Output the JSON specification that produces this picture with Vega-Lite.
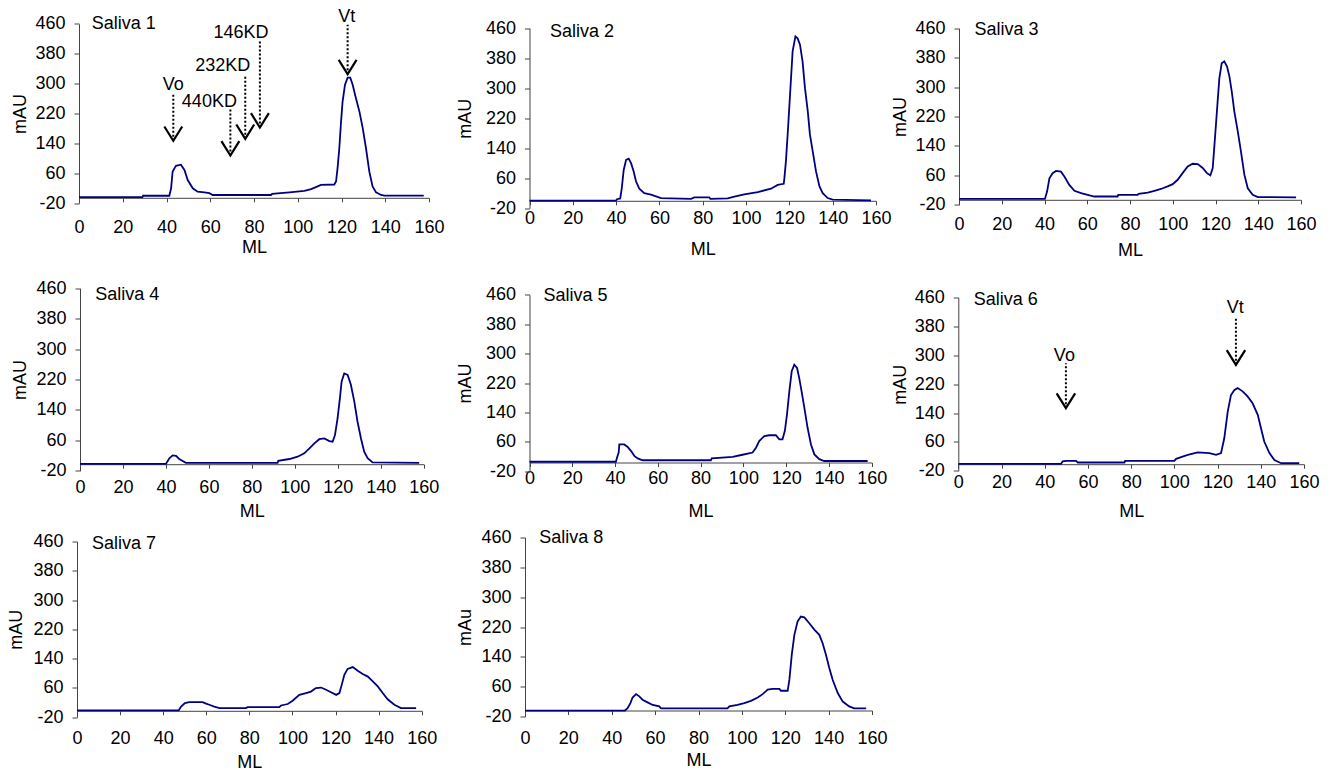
{
  "$schema": "https://vega.github.io/schema/vega-lite/v6.json",
  "background": "white",
  "padding": {"left": 7, "top": 7.5, "right": 0, "bottom": 0},
  "bounds": "flush",
  "columns": 3,
  "spacing": {"row": 52, "column": 80},
  "datasets": {
    "curves": [
      {"p":1,"x":0,"y":-4},{"p":1,"x":29,"y":-4},{"p":1,"x":29.3,"y":0},{"p":1,"x":41.3,"y":0},{"p":1,"x":42.1,"y":20},{"p":1,"x":42.8,"y":65},{"p":1,"x":44.3,"y":80},{"p":1,"x":46.6,"y":83},{"p":1,"x":48.2,"y":69},{"p":1,"x":49.7,"y":42},{"p":1,"x":52,"y":20},{"p":1,"x":54.2,"y":11},{"p":1,"x":57.3,"y":9},{"p":1,"x":59.6,"y":7},{"p":1,"x":61.1,"y":2},{"p":1,"x":87.8,"y":2},{"p":1,"x":88.3,"y":5},{"p":1,"x":96.2,"y":9},{"p":1,"x":103,"y":13},{"p":1,"x":106.1,"y":17.5},{"p":1,"x":108.3,"y":23},{"p":1,"x":110.6,"y":29},{"p":1,"x":116.7,"y":30},{"p":1,"x":117.5,"y":38},{"p":1,"x":118.2,"y":74},{"p":1,"x":119,"y":127},{"p":1,"x":119.8,"y":199},{"p":1,"x":120.5,"y":252},{"p":1,"x":121.6,"y":297},{"p":1,"x":122.8,"y":316},{"p":1,"x":124,"y":316},{"p":1,"x":125.1,"y":297},{"p":1,"x":126.6,"y":261},{"p":1,"x":128.2,"y":225},{"p":1,"x":129.7,"y":181},{"p":1,"x":131.2,"y":127},{"p":1,"x":132.7,"y":65},{"p":1,"x":134.2,"y":25},{"p":1,"x":135.8,"y":9},{"p":1,"x":138.1,"y":2},{"p":1,"x":139.6,"y":0.5},{"p":1,"x":157.6,"y":0.5},
      {"p":2,"x":0,"y":0},{"p":2,"x":39.9,"y":0},{"p":2,"x":40.4,"y":4},{"p":2,"x":41.9,"y":6},{"p":2,"x":42.6,"y":33},{"p":2,"x":43.5,"y":82},{"p":2,"x":44.6,"y":109},{"p":2,"x":45.8,"y":112},{"p":2,"x":46.9,"y":100},{"p":2,"x":48.1,"y":78},{"p":2,"x":49.2,"y":51},{"p":2,"x":50.7,"y":32},{"p":2,"x":53,"y":20},{"p":2,"x":56.1,"y":16},{"p":2,"x":60.7,"y":7},{"p":2,"x":74.6,"y":5},{"p":2,"x":76.1,"y":9},{"p":2,"x":83,"y":9},{"p":2,"x":83.5,"y":5},{"p":2,"x":91.5,"y":6},{"p":2,"x":94.6,"y":11},{"p":2,"x":99.2,"y":17},{"p":2,"x":105.4,"y":23},{"p":2,"x":111.5,"y":32},{"p":2,"x":114.6,"y":42},{"p":2,"x":117.4,"y":45},{"p":2,"x":117.7,"y":60},{"p":2,"x":118.4,"y":105},{"p":2,"x":119.2,"y":176},{"p":2,"x":120.3,"y":282},{"p":2,"x":121.5,"y":398},{"p":2,"x":122.8,"y":438},{"p":2,"x":123.8,"y":433},{"p":2,"x":124.9,"y":416},{"p":2,"x":126.1,"y":371},{"p":2,"x":127.2,"y":300},{"p":2,"x":128.5,"y":238},{"p":2,"x":129.5,"y":176},{"p":2,"x":130.8,"y":131},{"p":2,"x":132.3,"y":78},{"p":2,"x":133.9,"y":38},{"p":2,"x":135.4,"y":20},{"p":2,"x":137.7,"y":7},{"p":2,"x":140,"y":3},{"p":2,"x":157.7,"y":1},
      {"p":3,"x":0,"y":-4},{"p":3,"x":40.2,"y":-4},{"p":3,"x":41.2,"y":16},{"p":3,"x":42.3,"y":52},{"p":3,"x":43.8,"y":66},{"p":3,"x":45.4,"y":72},{"p":3,"x":47.7,"y":70},{"p":3,"x":49.3,"y":57},{"p":3,"x":51.6,"y":34},{"p":3,"x":54,"y":18},{"p":3,"x":57.1,"y":11.5},{"p":3,"x":60.2,"y":7},{"p":3,"x":63.3,"y":2.5},{"p":3,"x":74.2,"y":2.5},{"p":3,"x":74.5,"y":7},{"p":3,"x":83.6,"y":7},{"p":3,"x":84,"y":10},{"p":3,"x":88.3,"y":13},{"p":3,"x":91.4,"y":18},{"p":3,"x":94.5,"y":23},{"p":3,"x":97.6,"y":30},{"p":3,"x":100,"y":36},{"p":3,"x":102.3,"y":48},{"p":3,"x":104.6,"y":66},{"p":3,"x":107,"y":84},{"p":3,"x":109.3,"y":91.5},{"p":3,"x":111.7,"y":90.5},{"p":3,"x":114,"y":80},{"p":3,"x":116,"y":66},{"p":3,"x":117.6,"y":60},{"p":3,"x":118.7,"y":80},{"p":3,"x":119.4,"y":134},{"p":3,"x":120.2,"y":197},{"p":3,"x":121,"y":261},{"p":3,"x":121.8,"y":324},{"p":3,"x":122.9,"y":365},{"p":3,"x":124.1,"y":370},{"p":3,"x":125.4,"y":356},{"p":3,"x":126.5,"y":329},{"p":3,"x":127.6,"y":288},{"p":3,"x":128.8,"y":234},{"p":3,"x":130.4,"y":180},{"p":3,"x":131.9,"y":125},{"p":3,"x":133.5,"y":62},{"p":3,"x":135.1,"y":25},{"p":3,"x":137.4,"y":7},{"p":3,"x":139.8,"y":1},{"p":3,"x":157.7,"y":0},
      {"p":4,"x":0,"y":-2},{"p":4,"x":40,"y":-2},{"p":4,"x":41.6,"y":13},{"p":4,"x":43.1,"y":20.5},{"p":4,"x":44.7,"y":19},{"p":4,"x":46.2,"y":11},{"p":4,"x":47.8,"y":6},{"p":4,"x":49.3,"y":1},{"p":4,"x":92,"y":1},{"p":4,"x":92.3,"y":6},{"p":4,"x":97.5,"y":11},{"p":4,"x":101.3,"y":17},{"p":4,"x":104.4,"y":26},{"p":4,"x":106.8,"y":39},{"p":4,"x":109.1,"y":52},{"p":4,"x":111.4,"y":63},{"p":4,"x":113.7,"y":65},{"p":4,"x":116.1,"y":58},{"p":4,"x":117.6,"y":56.5},{"p":4,"x":118.7,"y":74},{"p":4,"x":119.9,"y":118},{"p":4,"x":121,"y":171},{"p":4,"x":121.8,"y":215},{"p":4,"x":123,"y":236},{"p":4,"x":124.6,"y":232},{"p":4,"x":126.1,"y":206},{"p":4,"x":127.7,"y":162},{"p":4,"x":129.2,"y":109},{"p":4,"x":130.8,"y":65},{"p":4,"x":132.3,"y":30},{"p":4,"x":133.9,"y":13},{"p":4,"x":136.2,"y":2},{"p":4,"x":157.9,"y":1},
      {"p":5,"x":0,"y":6},{"p":5,"x":40.4,"y":6},{"p":5,"x":40.9,"y":17},{"p":5,"x":41.7,"y":31},{"p":5,"x":42,"y":53},{"p":5,"x":44.3,"y":53},{"p":5,"x":45.9,"y":46},{"p":5,"x":47.5,"y":35},{"p":5,"x":49,"y":22},{"p":5,"x":50.6,"y":15},{"p":5,"x":52.9,"y":10},{"p":5,"x":84.8,"y":10},{"p":5,"x":85.2,"y":15},{"p":5,"x":95,"y":19},{"p":5,"x":99.6,"y":25},{"p":5,"x":104.3,"y":31},{"p":5,"x":105.9,"y":44},{"p":5,"x":107.4,"y":62},{"p":5,"x":109.8,"y":76},{"p":5,"x":112.1,"y":78},{"p":5,"x":115.2,"y":78},{"p":5,"x":116.8,"y":67},{"p":5,"x":118.3,"y":67},{"p":5,"x":119.4,"y":90},{"p":5,"x":120.4,"y":135},{"p":5,"x":121.5,"y":198},{"p":5,"x":122.6,"y":252},{"p":5,"x":123.8,"y":270},{"p":5,"x":125.1,"y":261},{"p":5,"x":126.1,"y":234},{"p":5,"x":127.2,"y":198},{"p":5,"x":128.5,"y":153},{"p":5,"x":130,"y":99},{"p":5,"x":131.6,"y":53},{"p":5,"x":133.2,"y":26},{"p":5,"x":135.5,"y":13},{"p":5,"x":137.8,"y":8},{"p":5,"x":158.1,"y":8},
      {"p":6,"x":0,"y":-1},{"p":6,"x":47.5,"y":-1},{"p":6,"x":48.3,"y":6},{"p":6,"x":49.9,"y":7.5},{"p":6,"x":54.5,"y":7.5},{"p":6,"x":55.3,"y":3},{"p":6,"x":76.9,"y":3},{"p":6,"x":77.2,"y":7.5},{"p":6,"x":100,"y":7.5},{"p":6,"x":100.8,"y":13},{"p":6,"x":103.1,"y":18},{"p":6,"x":106.2,"y":24},{"p":6,"x":110.8,"y":31},{"p":6,"x":116.2,"y":29},{"p":6,"x":119.3,"y":24},{"p":6,"x":121.6,"y":29},{"p":6,"x":123.1,"y":70},{"p":6,"x":124.7,"y":144},{"p":6,"x":126.2,"y":190},{"p":6,"x":127.8,"y":204},{"p":6,"x":129.3,"y":209},{"p":6,"x":131.6,"y":200},{"p":6,"x":133.9,"y":186},{"p":6,"x":136.2,"y":167},{"p":6,"x":138.6,"y":135},{"p":6,"x":140.1,"y":98},{"p":6,"x":141.6,"y":61},{"p":6,"x":144,"y":29},{"p":6,"x":146.3,"y":10},{"p":6,"x":149.4,"y":1},{"p":6,"x":157.8,"y":1},
      {"p":7,"x":0,"y":-1.5},{"p":7,"x":47.2,"y":-1.5},{"p":7,"x":48.3,"y":9},{"p":7,"x":50.1,"y":18.5},{"p":7,"x":52.1,"y":21},{"p":7,"x":58.3,"y":21},{"p":7,"x":59.9,"y":17},{"p":7,"x":61.4,"y":14},{"p":7,"x":63.7,"y":9},{"p":7,"x":66.1,"y":5},{"p":7,"x":78.4,"y":5},{"p":7,"x":79.2,"y":7.6},{"p":7,"x":93.9,"y":7.6},{"p":7,"x":94.7,"y":12},{"p":7,"x":97.8,"y":16},{"p":7,"x":100.1,"y":25},{"p":7,"x":103.2,"y":41},{"p":7,"x":106.3,"y":46},{"p":7,"x":108.6,"y":50},{"p":7,"x":110.9,"y":59.5},{"p":7,"x":113.3,"y":61},{"p":7,"x":115.6,"y":55},{"p":7,"x":117.9,"y":48},{"p":7,"x":120.3,"y":41},{"p":7,"x":121.8,"y":46},{"p":7,"x":122.9,"y":69},{"p":7,"x":124.1,"y":96},{"p":7,"x":125.6,"y":112},{"p":7,"x":128,"y":117},{"p":7,"x":130.3,"y":107},{"p":7,"x":132.6,"y":98},{"p":7,"x":135,"y":91},{"p":7,"x":137.3,"y":78},{"p":7,"x":139.6,"y":64},{"p":7,"x":141.9,"y":46},{"p":7,"x":144.2,"y":29},{"p":7,"x":147.3,"y":14},{"p":7,"x":150.4,"y":5},{"p":7,"x":157.4,"y":5},
      {"p":8,"x":0,"y":-4},{"p":8,"x":46.1,"y":-4},{"p":8,"x":47.3,"y":2},{"p":8,"x":48.6,"y":16},{"p":8,"x":49.6,"y":31},{"p":8,"x":51.2,"y":40},{"p":8,"x":52.7,"y":34},{"p":8,"x":54.2,"y":25},{"p":8,"x":56.5,"y":18},{"p":8,"x":58.9,"y":11},{"p":8,"x":61.9,"y":7},{"p":8,"x":62.7,"y":2},{"p":8,"x":93.4,"y":2},{"p":8,"x":94.2,"y":7},{"p":8,"x":98,"y":11},{"p":8,"x":101.1,"y":16},{"p":8,"x":104.2,"y":22},{"p":8,"x":107.3,"y":31},{"p":8,"x":109.6,"y":40},{"p":8,"x":111.9,"y":52},{"p":8,"x":114.2,"y":54},{"p":8,"x":117.3,"y":54},{"p":8,"x":118,"y":49},{"p":8,"x":121.1,"y":49},{"p":8,"x":121.9,"y":78},{"p":8,"x":123,"y":145},{"p":8,"x":124.2,"y":199},{"p":8,"x":125.7,"y":235},{"p":8,"x":127.2,"y":248},{"p":8,"x":128.8,"y":246},{"p":8,"x":131.1,"y":230},{"p":8,"x":133.4,"y":213},{"p":8,"x":135.7,"y":199},{"p":8,"x":137.2,"y":177},{"p":8,"x":138.8,"y":145},{"p":8,"x":140.3,"y":110},{"p":8,"x":141.9,"y":78},{"p":8,"x":144.2,"y":43},{"p":8,"x":146.5,"y":20},{"p":8,"x":149.5,"y":7},{"p":8,"x":151.8,"y":2},{"p":8,"x":157.3,"y":2}
    ],
    "names": [
      {"p":1,"x":5.8,"y":460,"label":"Saliva 1"},
      {"p":2,"x":9.5,"y":451,"label":"Saliva 2"},
      {"p":3,"x":7.2,"y":455.6,"label":"Saliva 3"},
      {"p":4,"x":7.1,"y":442.6,"label":"Saliva 4"},
      {"p":5,"x":6.5,"y":455.4,"label":"Saliva 5"},
      {"p":6,"x":7.1,"y":453.6,"label":"Saliva 6"},
      {"p":7,"x":7.0,"y":453.7,"label":"Saliva 7"},
      {"p":8,"x":6.6,"y":460,"label":"Saliva 8"}
    ],
    "arrows": [
      {"p":1,"x":43.1,"y":147,"y2":274},
      {"p":1,"x":69.2,"y":107.6,"y2":232.6},
      {"p":1,"x":76.0,"y":152.3,"y2":323.5},
      {"p":1,"x":82.7,"y":182.5,"y2":415.3},
      {"p":1,"x":122.8,"y":325.2,"y2":457.3},
      {"p":6,"x":49.8,"y":153.4,"y2":278},
      {"p":6,"x":128.5,"y":273.5,"y2":402.7}
    ],
    "marks": [
      {"p":1,"x":43.1,"y":297,"label":"Vo"},
      {"p":1,"x":59.6,"y":252,"label":"440KD"},
      {"p":1,"x":65.7,"y":345.8,"label":"232KD"},
      {"p":1,"x":74.1,"y":434.8,"label":"146KD"},
      {"p":1,"x":122.4,"y":479.5,"label":"Vt"},
      {"p":6,"x":49.1,"y":299.3,"label":"Vo"},
      {"p":6,"x":128.2,"y":430.4,"label":"Vt"}
    ]
  },
  "config": {
    "view": {"stroke": null},
    "font": "Liberation Sans",
    "axis": {"labelFont": "Liberation Sans", "labelFontSize": 18, "labelColor": "#000000", "titleFont": "Liberation Sans", "titleFontSize": 18, "titleFontWeight": "normal", "titleColor": "#000000", "domainColor": "#444444", "tickColor": "#444444", "domainWidth": 1, "tickWidth": 1, "grid": false, "labelFlush": false, "labelOverlap": false, "labelBound": false},
    "axisX": {"tickSize": 4, "titleBaseline": "middle"},
    "axisY": {"tickSize": 5, "labelPadding": 9, "titleBaseline": "middle", "labelExpr": "replace(datum.label, '−', '-')"},
    "text": {"font": "Liberation Sans", "fontSize": 18, "color": "#000000"}
  },
  "concat": [
    {"width": 360, "height": 205,
     "encoding": {
       "x": {"field": "x", "type": "quantitative", "scale": {"domain": [0,160], "range": [2,352], "nice": false, "zero": false}, "axis": {"values": [0,20,40,60,80,100,120,140,160], "offset": -18.7, "labelPadding": 16.2, "title": "ML", "titleY": 49.4}},
       "y": {"field": "y", "type": "quantitative", "scale": {"domain": [-20,460], "range": [191.7,12.3], "nice": false, "zero": false}, "axis": {"values": [-20,60,140,220,300,380,460], "offset": -2, "title": "mAU", "titleX": -58.8}}
     },
     "layer": [
       {"data": {"name": "curves"}, "transform": [{"filter": "datum.p == 1"}], "mark": {"type": "line", "color": "#000080", "strokeWidth": 1.8}},
       {"data": {"name": "names"}, "transform": [{"filter": "datum.p == 1"}], "mark": {"type": "text", "align": "left", "baseline": "middle"}, "encoding": {"text": {"field": "label"}}},
       {"data": {"name": "arrows"}, "transform": [{"filter": "datum.p == 1"}], "mark": {"type": "rule", "color": "#000000", "strokeWidth": 2, "strokeDash": [2,2]}, "encoding": {"y2": {"field": "y2"}}},
       {"data": {"name": "arrows"}, "transform": [{"filter": "datum.p == 1"}], "mark": {"type": "point", "shape": "M-1,-1.6L0,0L1,-1.6", "filled": false, "color": "#000000", "strokeWidth": 2.2, "size": 320, "opacity": 1}},
       {"data": {"name": "marks"}, "transform": [{"filter": "datum.p == 1"}], "mark": {"type": "text", "align": "center", "baseline": "middle"}, "encoding": {"text": {"field": "label"}}}
     ]},
    {"width": 360, "height": 205,
     "encoding": {
       "x": {"field": "x", "type": "quantitative", "scale": {"domain": [0,160], "range": [12.5,359], "nice": false, "zero": false}, "axis": {"values": [0,20,40,60,80,100,120,140,160], "offset": -15.7, "labelPadding": 4.9, "title": "ML", "titleY": 48.7}},
       "y": {"field": "y", "type": "quantitative", "scale": {"domain": [-20,460], "range": [196.7,16.7], "nice": false, "zero": false}, "axis": {"values": [-20,60,140,220,300,380,460], "offset": -12.5, "title": "mAU", "titleX": -64}}
     },
     "layer": [
       {"data": {"name": "curves"}, "transform": [{"filter": "datum.p == 2"}], "mark": {"type": "line", "color": "#000080", "strokeWidth": 1.8}},
       {"data": {"name": "names"}, "transform": [{"filter": "datum.p == 2"}], "mark": {"type": "text", "align": "left", "baseline": "middle"}, "encoding": {"text": {"field": "label"}}}
     ]},
    {"width": 360, "height": 205,
     "encoding": {
       "x": {"field": "x", "type": "quantitative", "scale": {"domain": [0,160], "range": [2,344], "nice": false, "zero": false}, "axis": {"values": [0,20,40,60,80,100,120,140,160], "offset": -16.7, "labelPadding": 11.2, "title": "ML", "titleY": 50.9}},
       "y": {"field": "y", "type": "quantitative", "scale": {"domain": [-20,460], "range": [193.3,16.7], "nice": false, "zero": false}, "axis": {"values": [-20,60,140,220,300,380,460], "offset": -2, "title": "mAU", "titleX": -58.5}}
     },
     "layer": [
       {"data": {"name": "curves"}, "transform": [{"filter": "datum.p == 3"}], "mark": {"type": "line", "color": "#000080", "strokeWidth": 1.8}},
       {"data": {"name": "names"}, "transform": [{"filter": "datum.p == 3"}], "mark": {"type": "text", "align": "left", "baseline": "middle"}, "encoding": {"text": {"field": "label"}}}
     ]},
    {"width": 360, "height": 205,
     "encoding": {
       "x": {"field": "x", "type": "quantitative", "scale": {"domain": [0,160], "range": [3,346.7], "nice": false, "zero": false}, "axis": {"values": [0,20,40,60,80,100,120,140,160], "offset": -9.3, "labelPadding": 9.8, "title": "ML", "titleY": 47.3}},
       "y": {"field": "y", "type": "quantitative", "scale": {"domain": [-20,460], "range": [202.3,19.7], "nice": false, "zero": false}, "axis": {"values": [-20,60,140,220,300,380,460], "offset": -3, "title": "mAU", "titleX": -59.8}}
     },
     "layer": [
       {"data": {"name": "curves"}, "transform": [{"filter": "datum.p == 4"}], "mark": {"type": "line", "color": "#000080", "strokeWidth": 1.8}},
       {"data": {"name": "names"}, "transform": [{"filter": "datum.p == 4"}], "mark": {"type": "text", "align": "left", "baseline": "middle"}, "encoding": {"text": {"field": "label"}}}
     ]},
    {"width": 360, "height": 205,
     "encoding": {
       "x": {"field": "x", "type": "quantitative", "scale": {"domain": [0,160], "range": [12.5,354.7], "nice": false, "zero": false}, "axis": {"values": [0,20,40,60,80,100,120,140,160], "offset": -11, "labelPadding": 3.2, "title": "ML", "titleY": 49}},
       "y": {"field": "y", "type": "quantitative", "scale": {"domain": [-20,460], "range": [202.8,26.3], "nice": false, "zero": false}, "axis": {"values": [-20,60,140,220,300,380,460], "offset": -12.5, "title": "mAU", "titleX": -64.5}}
     },
     "layer": [
       {"data": {"name": "curves"}, "transform": [{"filter": "datum.p == 5"}], "mark": {"type": "line", "color": "#000080", "strokeWidth": 1.8}},
       {"data": {"name": "names"}, "transform": [{"filter": "datum.p == 5"}], "mark": {"type": "text", "align": "left", "baseline": "middle"}, "encoding": {"text": {"field": "label"}}}
     ]},
    {"width": 360, "height": 205,
     "encoding": {
       "x": {"field": "x", "type": "quantitative", "scale": {"domain": [0,160], "range": [1.3,347], "nice": false, "zero": false}, "axis": {"values": [0,20,40,60,80,100,120,140,160], "offset": -9.3, "labelPadding": 4.8, "title": "ML", "titleY": 47.3}},
       "y": {"field": "y", "type": "quantitative", "scale": {"domain": [-20,460], "range": [202.3,29], "nice": false, "zero": false}, "axis": {"values": [-20,60,140,220,300,380,460], "offset": -1.3, "title": "mAU", "titleX": -57.8}}
     },
     "layer": [
       {"data": {"name": "curves"}, "transform": [{"filter": "datum.p == 6"}], "mark": {"type": "line", "color": "#000080", "strokeWidth": 1.8}},
       {"data": {"name": "names"}, "transform": [{"filter": "datum.p == 6"}], "mark": {"type": "text", "align": "left", "baseline": "middle"}, "encoding": {"text": {"field": "label"}}},
       {"data": {"name": "arrows"}, "transform": [{"filter": "datum.p == 6"}], "mark": {"type": "rule", "color": "#000000", "strokeWidth": 2, "strokeDash": [2,2]}, "encoding": {"y2": {"field": "y2"}}},
       {"data": {"name": "arrows"}, "transform": [{"filter": "datum.p == 6"}], "mark": {"type": "point", "shape": "M-1,-1.6L0,0L1,-1.6", "filled": false, "color": "#000000", "strokeWidth": 2.2, "size": 340, "opacity": 1}},
       {"data": {"name": "marks"}, "transform": [{"filter": "datum.p == 6"}], "mark": {"type": "text", "align": "center", "baseline": "middle"}, "encoding": {"text": {"field": "label"}}}
     ]},
    {"width": 360, "height": 205,
     "encoding": {
       "x": {"field": "x", "type": "quantitative", "scale": {"domain": [0,160], "range": [0,344.7], "nice": false, "zero": false}, "axis": {"values": [0,20,40,60,80,100,120,140,160], "offset": -19.7, "labelPadding": 14.9, "title": "ML", "titleY": 51.5}},
       "y": {"field": "y", "type": "quantitative", "scale": {"domain": [-20,460], "range": [191.7,16], "nice": false, "zero": false}, "axis": {"values": [-20,60,140,220,300,380,460], "offset": 0, "title": "mAU", "titleX": -60.2}}
     },
     "layer": [
       {"data": {"name": "curves"}, "transform": [{"filter": "datum.p == 7"}], "mark": {"type": "line", "color": "#000080", "strokeWidth": 1.8}},
       {"data": {"name": "names"}, "transform": [{"filter": "datum.p == 7"}], "mark": {"type": "text", "align": "left", "baseline": "middle"}, "encoding": {"text": {"field": "label"}}}
     ]},
    {"width": 360, "height": 205,
     "encoding": {
       "x": {"field": "x", "type": "quantitative", "scale": {"domain": [0,160], "range": [8,355], "nice": false, "zero": false}, "axis": {"values": [0,20,40,60,80,100,120,140,160], "offset": -20, "labelPadding": 15.2, "title": "ML", "titleY": 50}},
       "y": {"field": "y", "type": "quantitative", "scale": {"domain": [-20,460], "range": [191,12], "nice": false, "zero": false}, "axis": {"values": [-20,60,140,220,300,380,460], "offset": -8, "title": "mAu", "titleX": -60}}
     },
     "layer": [
       {"data": {"name": "curves"}, "transform": [{"filter": "datum.p == 8"}], "mark": {"type": "line", "color": "#000080", "strokeWidth": 1.8}},
       {"data": {"name": "names"}, "transform": [{"filter": "datum.p == 8"}], "mark": {"type": "text", "align": "left", "baseline": "middle"}, "encoding": {"text": {"field": "label"}}}
     ]}
  ]
}
